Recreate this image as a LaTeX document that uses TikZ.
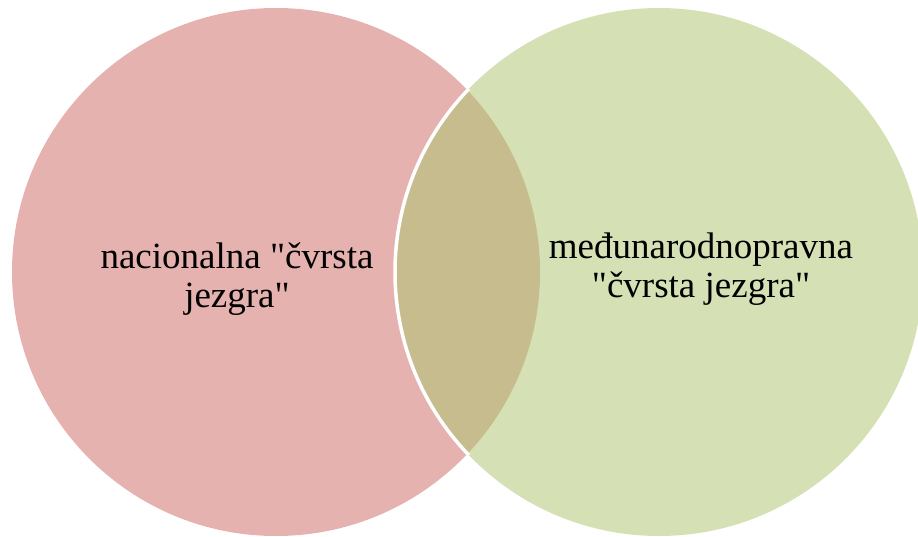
\documentclass[tikz,border=0pt]{standalone}
\usepackage{fontspec}
\setmainfont{Liberation Serif}[Ligatures=TeXOff]
\definecolor{pinkc}{RGB}{229,178,175}
\definecolor{greenc}{RGB}{213,224,181}
\definecolor{khakic}{RGB}{198,188,141}
\begin{document}
\begin{tikzpicture}[x=1pt,y=-1pt,
  venn/.style={circle,minimum size=528pt,inner sep=0pt,outer sep=0pt},
  lbl/.style={align=center,font=\fontsize{37}{39}\selectfont,inner sep=0pt}]
\useasboundingbox (0,0) rectangle (918,537);
\node[venn,fill=pinkc] (L) at (276,272) {};
\node[venn,fill=greenc] (R) at (659,272) {};
\begin{scope}
  \clip (L.center) circle[radius=264pt];
  \fill[khakic] (R.center) circle[radius=264pt];
\end{scope}
\begin{scope}
  \clip (L.center) circle[radius=266pt];
  \draw[white,line width=3.5pt] (R.center) circle[radius=264pt];
\end{scope}
\node[lbl] (tl) at (237,279) {nacionalna "čvrsta\\jezgra"};
\node[lbl] (tr) at (701,269) {međunarodnopravna\\"čvrsta jezgra"};
\end{tikzpicture}
\end{document}
